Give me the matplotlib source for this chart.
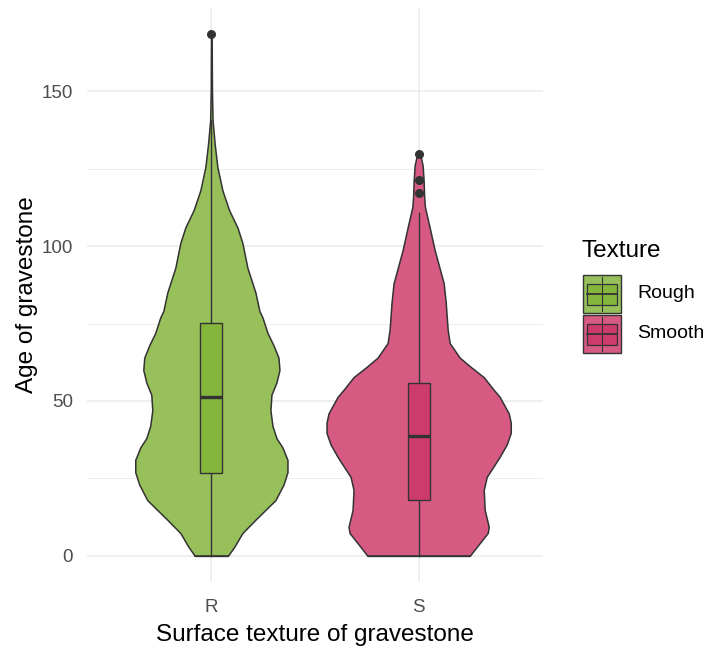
import matplotlib.pyplot as plt
import numpy as np
from matplotlib.patches import Rectangle

plt.rcParams['font.family'] = ['Liberation Sans', 'DejaVu Sans']

# Data: two texture groups, violin profile (age, half-width in category units)
groups = ['R', 'S']
labels = ['Rough', 'Smooth']
violin_fill = ['#97c05b', '#d65a82']
box_fill = ['#84b63c', '#cd3a6c']
line_col = '#333333'

rough_age = [0, 3, 7.4, 12, 18, 23, 27, 31, 35, 38, 42, 47, 52, 56, 60, 64, 68,
             72, 77, 79, 85, 93, 101, 106, 111.6, 118, 125.5, 133, 140.6, 150, 168.4]
rough_half = [16.5, 23, 31, 45, 64, 72, 76, 76, 71, 65, 61, 59, 60, 65, 68, 67, 62,
              56, 51, 48, 44, 36, 31, 26, 17.7, 11, 6, 3.3, 1.2, 0.6, 0.3]
smooth_age = [0, 2.9, 7.4, 9.4, 14.8, 21.3, 25.5, 32, 36, 39.7, 43, 46, 51.3, 54,
              57.7, 61, 64, 68.7, 73, 82, 88, 98.7, 106, 112.6, 116, 121, 126, 129.7]
smooth_half = [51, 58, 69, 70, 66, 65, 68, 81, 88, 92, 92, 90, 81, 74,
               65, 52, 41, 31, 29, 27, 25, 16, 11, 6.3, 5.5, 5, 4, 1.5]
half_scale = 207.0  # pixels per category unit used when reading widths

# Box stats: lower whisker, Q1, median, Q3, upper whisker, outliers
box_stats = [
    dict(lo=0, q1=26.8, med=51.3, q3=75.2, hi=140.6, out=[168.4]),
    dict(lo=0, q1=18.0, med=38.7, q3=55.8, hi=110.6, out=[129.7, 121.3, 117.0]),
]
profiles = [(rough_age, rough_half), (smooth_age, smooth_half)]

fig = plt.figure(figsize=(7.08, 6.5), dpi=100)
ax = fig.add_axes([87 / 708, 68 / 650, 456 / 708, 574 / 650])

ymax = max(max(rough_age), max(smooth_age))
ax.set_xlim(0.4, 2.6)
ax.set_ylim(-0.05 * ymax, 1.05 * ymax)

# theme_minimal style grid
for y in [25, 75, 125]:
    ax.axhline(y, color='#ebebeb', lw=0.6, zorder=0)
for y in [0, 50, 100, 150]:
    ax.axhline(y, color='#ebebeb', lw=1.1, zorder=0)
for x in [1, 2]:
    ax.axvline(x, color='#ebebeb', lw=1.1, zorder=0)

bw = 0.105
for i, ((age, half), st) in enumerate(zip(profiles, box_stats)):
    xc = i + 1
    a = np.array(age)
    h = np.array(half) / half_scale
    ax.fill_betweenx(a, xc - h, xc + h, facecolor=violin_fill[i],
                     edgecolor=line_col, lw=1.1, zorder=2)
    ax.plot([xc - h[0], xc + h[0]], [a[0], a[0]], color=line_col, lw=1.1, zorder=2)
    # whiskers
    ax.plot([xc, xc], [st['lo'], st['q1']], color=line_col, lw=1.0, zorder=3)
    ax.plot([xc, xc], [st['q3'], st['hi']], color=line_col, lw=1.0, zorder=3)
    ax.add_patch(Rectangle((xc - bw / 2, st['q1']), bw, st['q3'] - st['q1'],
                           facecolor=box_fill[i], edgecolor=line_col, lw=1.0, zorder=3))
    ax.plot([xc - bw / 2, xc + bw / 2], [st['med'], st['med']],
            color=line_col, lw=2.4, zorder=4, solid_capstyle='butt')
    ax.plot([xc] * len(st['out']), st['out'], 'o', color=line_col, ms=5.5, zorder=4)

for s in ax.spines.values():
    s.set_visible(False)
ax.set_xticks([1, 2])
ax.set_xticklabels(groups)
ax.set_yticks([0, 50, 100, 150])
ax.tick_params(length=0, labelsize=13.5, labelcolor='#4d4d4d')
ax.tick_params(axis='x', pad=12)
ax.tick_params(axis='y', pad=10)
ax.set_xlabel('Surface texture of gravestone', fontsize=17.5, labelpad=6)
ax.set_ylabel('Age of gravestone', fontsize=17.5, labelpad=3)

# legend drawn in figure pixel space
lax = fig.add_axes([0, 0, 1, 1], facecolor='none')
lax.set_xlim(0, 708)
lax.set_ylim(650, 0)
lax.axis('off')
lax.text(582, 251, 'Texture', fontsize=17.5, va='center', ha='left')
key_x, key_w, key_h = 583, 38, 38
for i, lab in enumerate(labels):
    ky = 275 + i * (key_h + 2)
    lax.add_patch(Rectangle((key_x, ky), key_w, key_h, facecolor=violin_fill[i],
                            edgecolor=line_col, lw=1.0))
    cx, cy = key_x + key_w / 2, ky + key_h / 2
    lax.plot([cx, cx], [ky + 2, ky + key_h - 2], color=line_col, lw=0.8)
    lax.add_patch(Rectangle((key_x + 4, cy - 10.5), key_w - 8, 21, facecolor=box_fill[i],
                            edgecolor=line_col, lw=0.9))
    lax.plot([key_x + 4, key_x + key_w - 4], [cy, cy], color=line_col, lw=1.3)
    lax.text(637, cy, lab, fontsize=14, va='center', ha='left')

fig.savefig('out.png', dpi=100)
